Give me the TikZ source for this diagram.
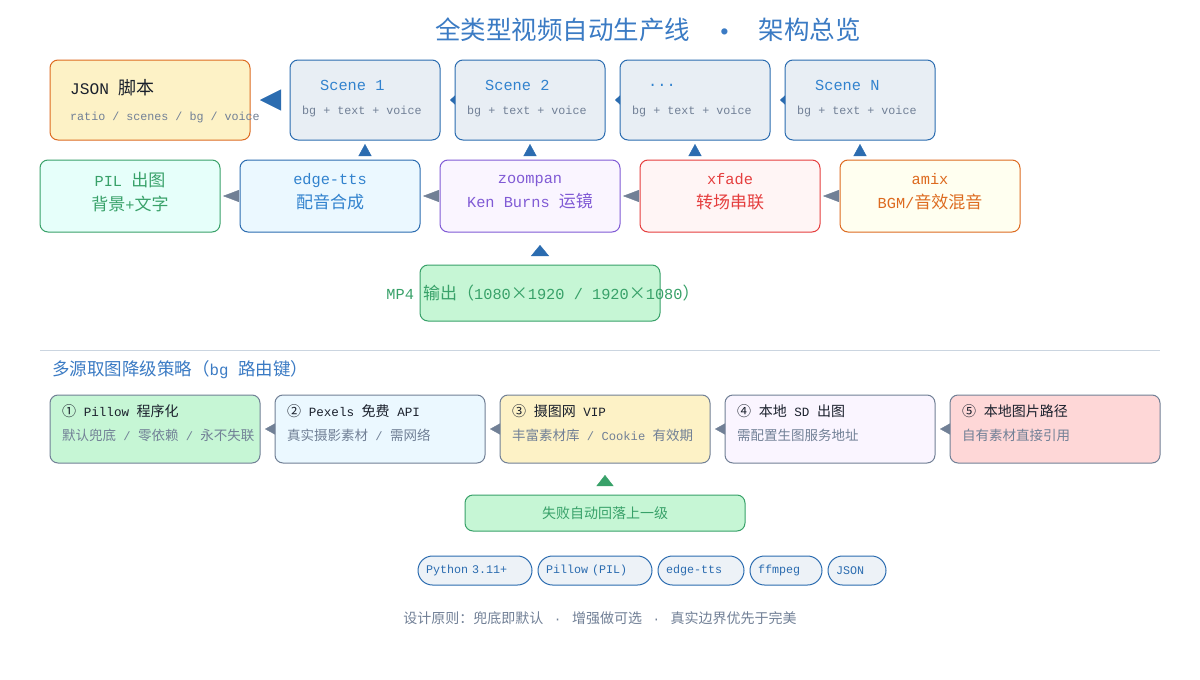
\documentclass[tikz,border=0pt]{standalone}
\usepackage{fontspec}
\setmainfont{Liberation Mono}[Scale=0.9]
\newfontfamily\cjk{Noto Sans CJK SC}
% switch to the CJK face on Chinese characters
\XeTeXinterchartokenstate=1
\newXeTeXintercharclass\cjkclass
\newcount\cjkcode
\newcommand\setcjkrange[2]{\cjkcode=#1\relax
  \loop\XeTeXcharclass\cjkcode=\cjkclass
  \ifnum\cjkcode<#2\advance\cjkcode by 1\repeat}
\setcjkrange{"00D7}{"00D7}
\setcjkrange{"2460}{"24FF}
\setcjkrange{"3000}{"303F}
\setcjkrange{"4E00}{"9FFF}
\setcjkrange{"FF00}{"FFEF}
\XeTeXinterchartoks 0 \cjkclass={\cjk}
\XeTeXinterchartoks 4095 \cjkclass={\cjk}
\XeTeXinterchartoks \cjkclass 0={\rmfamily}
\XeTeXinterchartoks \cjkclass 4095={\rmfamily}
\usetikzlibrary{arrows.meta,positioning}

\definecolor{blueline}{HTML}{2B6CB0}
\definecolor{bluetext}{HTML}{3182CE}
\definecolor{headblue}{HTML}{3B7BC4}
\definecolor{greyline}{HTML}{718096}
\definecolor{greentext}{HTML}{38A169}
\definecolor{purpletext}{HTML}{805AD5}
\definecolor{redtext}{HTML}{E53E3E}
\definecolor{orangetext}{HTML}{DD6B20}
\definecolor{darktext}{HTML}{1A202C}
\definecolor{jsonfill}{HTML}{FDF2C6}
\definecolor{scenefill}{HTML}{E8EEF4}
\definecolor{pilfill}{HTML}{E6FFFA}
\definecolor{ttsfill}{HTML}{EBF8FF}
\definecolor{zoomfill}{HTML}{FAF5FF}
\definecolor{xfadefill}{HTML}{FFF5F5}
\definecolor{amixfill}{HTML}{FFFFF0}
\definecolor{mintfill}{HTML}{C6F6D5}
\definecolor{rosefill}{HTML}{FED7D7}
\definecolor{pillfill}{HTML}{EDF2F7}
\definecolor{rulecol}{HTML}{CBD5E0}

\begin{document}
\begin{tikzpicture}[x=1pt,y=-1pt]
        \tikzstyle{box}=[rectangle,rounded corners=8pt,line width=1pt,inner sep=0pt,outer sep=0pt]
        \tikzstyle{scene}=[box,draw=blueline,fill=scenefill,minimum width=150pt,minimum height=80pt]
        \tikzstyle{stage}=[box,minimum width=180pt,minimum height=72pt]
        \tikzstyle{stagetext}=[align=center,inner sep=0pt,font=\fontsize{17}{24}\selectfont]
        \tikzstyle{tier}=[box,draw=greyline,minimum width=210pt,minimum height=68pt]
        \tikzstyle{head}=[anchor=west,inner sep=0pt]
        \tikzstyle{sub}=[anchor=west,inner sep=0pt,text=greyline]
        \tikzstyle{scenehead}=[head,font=\fontsize{17}{20}\selectfont,text=bluetext]
        \tikzstyle{scenesub}=[sub,font=\fontsize{13}{16}\selectfont]
        \tikzstyle{tierhead}=[head,font=\fontsize{14}{16}\selectfont,text=darktext]
        \tikzstyle{tiersub}=[sub,font=\fontsize{13.5}{16}\selectfont]
        \tikzstyle{pill}=[draw=blueline,fill=pillfill,line width=1pt,outer sep=0pt,rounded corners=14.5pt,minimum height=29pt,inner xsep=8pt,inner ysep=0pt,align=left,text=blueline,font=\fontsize{13}{15}\selectfont]
        \tikzstyle{bigarrow}=[-{Triangle[length=21pt,width=21pt]},blueline,shorten <=11pt,shorten >=10pt]
        \tikzstyle{linkarrow}=[-{Triangle[length=5pt,width=9pt]},blueline,shorten <=1pt,shorten >=10pt]
        \tikzstyle{uparrow}=[-{Triangle[length=12pt,width=13pt]},blueline,shorten <=5.5pt,shorten >=4pt]
        \tikzstyle{greyarrow}=[-{Triangle[length=16pt,width=12pt]},greyline,shorten <=2.5pt,shorten >=3pt]
        \tikzstyle{outarrow}=[-{Triangle[length=11pt,width=18pt]},blueline,shorten <=10.5pt,shorten >=13pt]
        \tikzstyle{tierarrow}=[-{Triangle[length=10pt,width=11pt]},greyline,shorten <=1pt,shorten >=5pt]
        \tikzstyle{backarrow}=[-{Triangle[length=11pt,width=17pt]},greentext,shorten <=10.5pt,shorten >=12pt]

        \path [fill=white] (0,0) rectangle (1200,680);
        \node [font=\fontsize{25.5}{30}\selectfont,text=headblue] (title) at (648,30) {全类型视频自动生产线\ \ •\ \ 架构总览};

        % script and scenes
        \node [box,draw=orangetext,fill=jsonfill,minimum width=200pt,minimum height=80pt] (json) at (150,100) {}; %JSON
        \node [scene] (s1) [right=40pt of json] {} %Scene 1
            edge [bigarrow] (json);
        \node [scene] (s2) [right=15pt of s1] {} %Scene 2
            edge [linkarrow] (s1);
        \node [scene] (s3) [right=15pt of s2] {} %...
            edge [linkarrow] (s2);
        \node [scene] (sN) [right=15pt of s3] {} %Scene N
            edge [linkarrow] (s3);
        \node [head,font=\fontsize{18}{20}\selectfont,text=darktext] (jsont) at ([xshift=20pt,yshift=-28pt]json.north west) {JSON 脚本};
        \node [sub,font=\fontsize{13}{16}\selectfont] (jsons) at ([xshift=20pt,yshift=-57pt]json.north west) {ratio / scenes / bg / voice};
        \node [scenehead] (s1t) at ([xshift=30pt,yshift=-25pt]s1.north west) {Scene 1};
        \node [scenesub] (s1s) at ([xshift=12pt,yshift=-51pt]s1.north west) {bg + text + voice};
        \node [scenehead] (s2t) at ([xshift=30pt,yshift=-25pt]s2.north west) {Scene 2};
        \node [scenesub] (s2s) at ([xshift=12pt,yshift=-51pt]s2.north west) {bg + text + voice};
        \node [scenehead] (s3t) at ([xshift=28pt,yshift=-25pt]s3.north west) {...};
        \node [scenesub] (s3s) at ([xshift=12pt,yshift=-51pt]s3.north west) {bg + text + voice};
        \node [scenehead] (sNt) at ([xshift=30pt,yshift=-25pt]sN.north west) {Scene N};
        \node [scenesub] (sNs) at ([xshift=12pt,yshift=-51pt]sN.north west) {bg + text + voice};

        % tool chain
        \node [stage,draw=greentext,fill=pilfill] (pil) at (130,196) {};
        \node [stage,draw=blueline,fill=ttsfill] (tts) [right=20pt of pil] {}
            edge [greyarrow] (pil);
        \node [stage,draw=purpletext,fill=zoomfill] (zoom) [right=20pt of tts] {}
            edge [greyarrow] (tts);
        \node [stage,draw=redtext,fill=xfadefill] (xfade) [right=20pt of zoom] {}
            edge [greyarrow] (zoom);
        \node [stage,draw=orangetext,fill=amixfill] (amix) [right=20pt of xfade] {}
            edge [greyarrow] (xfade);
        \node [stagetext,text=greentext] (pilt) at ([yshift=4pt]pil) {PIL 出图\\背景+文字};
        \node [stagetext,text=bluetext] (ttst) at ([yshift=4pt]tts) {edge-tts\\配音合成};
        \node [stagetext,text=purpletext] (zoomt) at ([yshift=4pt]zoom) {zoompan\\Ken Burns 运镜};
        \node [stagetext,text=redtext] (xfadet) at ([yshift=4pt]xfade) {xfade\\转场串联};
        \node [stagetext,text=orangetext] (amixt) at ([yshift=4pt]amix) {amix\\BGM/音效混音};
        \draw [uparrow] (s1 |- tts.north) -- (s1.south);
        \draw [uparrow] (s2 |- zoom.north) -- (s2.south);
        \draw [uparrow] (s3 |- xfade.north) -- (s3.south);
        \draw [uparrow] (sN |- amix.north) -- (sN.south);

        \node [box,draw=greentext,fill=mintfill,minimum width=240pt,minimum height=56pt] (mp4) at (540,293) {}; %output
        \node [font=\fontsize{17}{20}\selectfont,text=greentext] (mp4t) at ([xshift=3pt]mp4) {MP4 输出（1080×1920 / 1920×1080）};
        \draw [outarrow] (mp4) -- (mp4 |- zoom.south);

        \draw [rulecol,line width=1pt] (40,350) -- (1160,350);
        \node [head,font=\fontsize{17.5}{20}\selectfont,text=headblue] (sect) at (52,370) {多源取图降级策略（bg 路由键）};

        % fallback chain
        \node [tier,fill=mintfill] (f1) at (155,429) {}; %1
        \node [tier,fill=ttsfill] (f2) [right=15pt of f1] {} %2
            edge [tierarrow] (f1);
        \node [tier,fill=jsonfill] (f3) [right=15pt of f2] {} %3
            edge [tierarrow] (f2);
        \node [tier,fill=zoomfill] (f4) [right=15pt of f3] {} %4
            edge [tierarrow] (f3);
        \node [tier,fill=rosefill] (f5) [right=15pt of f4] {} %5
            edge [tierarrow] (f4);
        \node [tierhead] (f1t) at ([xshift=12pt,yshift=-16pt]f1.north west) {① Pillow 程序化};
        \node [tiersub] (f1s) at ([xshift=12pt,yshift=-40pt]f1.north west) {默认兜底 / 零依赖 / 永不失联};
        \node [tierhead] (f2t) at ([xshift=12pt,yshift=-16pt]f2.north west) {② Pexels 免费 API};
        \node [tiersub] (f2s) at ([xshift=12pt,yshift=-40pt]f2.north west) {真实摄影素材 / 需网络};
        \node [tierhead] (f3t) at ([xshift=12pt,yshift=-16pt]f3.north west) {③ 摄图网 VIP};
        \node [tiersub] (f3s) at ([xshift=12pt,yshift=-40pt]f3.north west) {丰富素材库 / Cookie 有效期};
        \node [tierhead] (f4t) at ([xshift=12pt,yshift=-16pt]f4.north west) {④ 本地 SD 出图};
        \node [tiersub] (f4s) at ([xshift=12pt,yshift=-40pt]f4.north west) {需配置生图服务地址};
        \node [tierhead] (f5t) at ([xshift=12pt,yshift=-16pt]f5.north west) {⑤ 本地图片路径};
        \node [tiersub] (f5s) at ([xshift=12pt,yshift=-40pt]f5.north west) {自有素材直接引用};

        \node [box,draw=greentext,fill=mintfill,minimum width=280pt,minimum height=36pt,text=greentext,font=\fontsize{14}{16}\selectfont] (fall) at (605,513) {失败自动回落上一级};
        \draw [backarrow] (fall) -- (f3);

        % stack
        \node [pill,text width=98pt] (p1) at (475,570.5) {Python 3.11+};
        \node [pill,text width=98pt] (p2) [right=6pt of p1] {Pillow (PIL)};
        \node [pill,text width=70pt] (p3) [right=6pt of p2] {edge-tts};
        \node [pill,text width=56pt] (p4) [right=6pt of p3] {ffmpeg};
        \node [pill,text width=42pt] (p5) [right=6pt of p4] {JSON};

        \node [font=\fontsize{14}{16}\selectfont,text=greyline] (motto) at (600,618) {设计原则：兜底即默认\ \hspace{3pt}·\ \hspace{3pt}增强做可选\ \hspace{3pt}·\ \hspace{3pt}真实边界优先于完美};
\end{tikzpicture}
\end{document}
